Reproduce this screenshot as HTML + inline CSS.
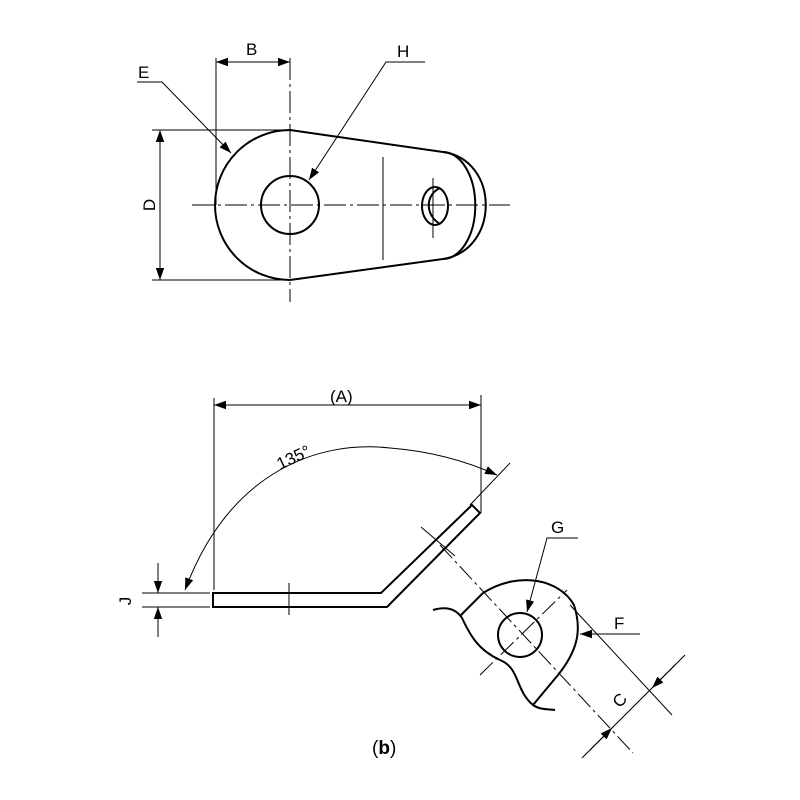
<!DOCTYPE html>
<html><head><style>html,body{margin:0;padding:0;background:#fff}svg{display:block}</style></head><body>
<svg width="800" height="800" viewBox="0 0 800 800" xmlns="http://www.w3.org/2000/svg" font-family="Liberation Sans, sans-serif">
<defs>
<marker id="a" viewBox="0 0 10 10" refX="10" refY="5" markerWidth="12" markerHeight="12" markerUnits="userSpaceOnUse" orient="auto-start-reverse"><path d="M0,1.5 L10,5 L0,8.5 z" fill="#000"/></marker>
</defs>
<g fill="none" stroke="#000">
<g stroke-width="2">
<path d="M290,130 A75,75 0 0 0 290,280"/>
<line x1="290" y1="130" x2="443" y2="152"/>
<line x1="290" y1="280" x2="443" y2="259"/>
<path d="M443,152 A32,53 0 0 1 443,259"/>
<path d="M443,152 C 500,160 500,250 443,259"/>
<circle cx="290" cy="205" r="29"/>
<ellipse cx="435" cy="206" rx="13" ry="19"/>
<path d="M440,188 C 425,195 425,215 440,224"/>
</g>
<g stroke-width="1">
<line x1="290" y1="58" x2="290" y2="302" stroke-dasharray="22,4,3,4"/>
<line x1="192" y1="205" x2="510" y2="205" stroke-dasharray="22,4,3,4"/>
<line x1="383" y1="157" x2="383" y2="260"/>
<line x1="433" y1="178" x2="433" y2="238"/>
<line x1="216" y1="58" x2="216" y2="205"/>
<line x1="216" y1="62" x2="290" y2="62" marker-start="url(#a)" marker-end="url(#a)"/>
<line x1="152" y1="130" x2="290" y2="130"/>
<line x1="152" y1="280" x2="290" y2="280"/>
<line x1="160" y1="130" x2="160" y2="280" marker-start="url(#a)" marker-end="url(#a)"/>
<polyline points="137,82 162,82 231,153" marker-end="url(#a)"/>
<polyline points="425,62 386,62 309,180" marker-end="url(#a)"/>
</g>
<g stroke-width="2">
<polygon points="213,593 381,593 472,505 480,513 387,607 213,607"/>
</g>
<g stroke-width="1">
<line x1="214" y1="398" x2="214" y2="590"/>
<line x1="481" y1="395" x2="481" y2="513"/>
<line x1="214" y1="405" x2="481" y2="405" marker-start="url(#a)" marker-end="url(#a)"/>
<path d="M185,590 C 230,470 320,440 390,448 C 440,452 475,465 497,475" marker-start="url(#a)" marker-end="url(#a)"/>
<line x1="470" y1="505" x2="510" y2="463"/>
<line x1="289" y1="583" x2="289" y2="615"/>
<line x1="421" y1="527" x2="455" y2="556"/>
<line x1="142" y1="593" x2="210" y2="593"/>
<line x1="142" y1="607" x2="210" y2="607"/>
<line x1="158" y1="563" x2="158" y2="593" marker-end="url(#a)"/>
<line x1="158" y1="637" x2="158" y2="607" marker-end="url(#a)"/>
<line x1="440" y1="545" x2="633" y2="753" stroke-dasharray="18,4,3,4"/>
<line x1="480" y1="675" x2="567" y2="590" stroke-dasharray="18,4,3,4"/>
<line x1="570" y1="605" x2="672" y2="715"/>
<line x1="582" y1="758" x2="685" y2="655"/>
<line x1="590" y1="750" x2="612" y2="728" marker-end="url(#a)"/>
<line x1="675" y1="665" x2="652" y2="688" marker-end="url(#a)"/>
<line x1="640" y1="634" x2="580" y2="634" marker-end="url(#a)"/>
<polyline points="578,538 547,538 527,612" marker-end="url(#a)"/>
</g>
<g stroke-width="2">
<circle cx="520" cy="635" r="22"/>
<path d="M483,593 C 520,570 560,580 574,605 C 582,630 578,650 558,675"/>
<line x1="483" y1="593" x2="460" y2="616"/>
<line x1="558" y1="675" x2="533" y2="705"/>
<path d="M433,610 C 450,605 458,612 462,618 C 470,635 478,650 500,660 C 520,668 515,690 533,705 C 540,710 548,709 555,710"/>
</g>
</g>
<g font-size="17" fill="#000">
<text x="246" y="55">B</text>
<text x="138" y="78">E</text>
<text x="397" y="57">H</text>
<text transform="translate(155,205) rotate(-90)" text-anchor="middle">D</text>
<text x="330" y="402">(A)</text>
<text transform="translate(280,470) rotate(-25)">135°</text>
<text transform="translate(131,601) rotate(-90)" text-anchor="middle">J</text>
<text x="551" y="533">G</text>
<text x="614" y="629">F</text>
<text transform="translate(624,704) rotate(-48)" text-anchor="middle">C</text>
<text x="372" y="754" font-size="19">(<tspan font-weight="bold">b</tspan>)</text>
</g>
</svg>
</body></html>
